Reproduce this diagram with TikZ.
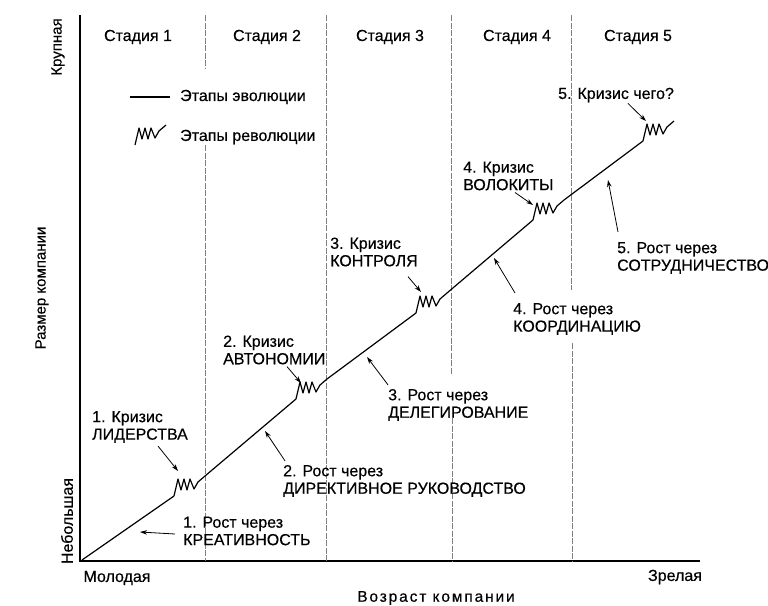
\documentclass[tikz,border=0pt]{standalone}
\usepackage{fontspec}
\setmainfont{Liberation Sans}
\newfontfamily\lblfont[FakeBold=0.35]{Liberation Sans}
\newfontfamily\widefont[FakeBold=0.35,LetterSpace=12]{Liberation Sans}
\usetikzlibrary{arrows.meta}
\begin{document}
\begin{tikzpicture}[x=1pt,y=-1pt,
  axis/.style={line width=1.4pt},
  stageline/.style={black!50, line width=0.6pt, dash pattern=on 6pt off 1.5pt},
  evo/.style={line width=1.2pt, line join=round},
  txt/.style={font=\lblfont\fontsize{16}{17.5}\selectfont, inner sep=0pt},
  smalltxt/.style={font=\lblfont\fontsize{15}{17}\selectfont, inner sep=0pt},
  lbl/.style={txt, align=left, anchor=west},
  ptr/.style={line width=0.8pt, -{Stealth[length=7pt,width=4.5pt]}},
  zz/.pic={\draw[evo] (0,0) -- (4,-17) -- (7,-6) -- (10,-17) -- (13,-6) -- (16,-17) -- (20,-7) -- (24,-14) -- (31,-20) coordinate (-end);}
]
\useasboundingbox[fill=white] (0,0) rectangle (768,605);

% axes
\coordinate (ytop) at (80,15);
\coordinate (orig) at (80,561);
\coordinate (xend) at (700,561);
\draw[axis] (ytop) -- (orig) -- (xend);

% stage separators
\draw[stageline] (205,15) -- (205,68) (205,145) -- (205,561);
\draw[stageline] (326,15) -- (326,561);
\draw[stageline] (451,15) -- (451,375) (452,418) -- (452,561);
\draw[stageline] (571,15) -- (571,290) (572,343) -- (572,561);

% stage titles
\node[txt] (s1) at (138,37) {Стадия 1};
\node[txt] (s2) at (267,37) {Стадия 2};
\node[txt] (s3) at (390,37) {Стадия 3};
\node[txt] (s4) at (517,37) {Стадия 4};
\node[txt] (s5) at (638,37) {Стадия 5};

% axis labels
\node[smalltxt, rotate=90] (ybig) at (58,47) {Крупная};
\node[smalltxt, rotate=90] (ytitle) at (42,288) {Размер компании};
\node[txt, rotate=90] (ysmall) at (67,521) {Небольшая};
\node[txt] (xyoung) at (117,578) {Молодая};
\node[txt] (xmature) at (675,577) {Зрелая};
\node[txt, font=\widefont\fontsize{15.5}{17}\selectfont] (xtitle) at (436,598) {Возраст компании};

% legend
\coordinate (lg1) at (130,97);
\coordinate (lg2) at (170,97);
\draw[evo] (lg1) -- (lg2);
\node[lbl] (lev) at (180,97) {Этапы эволюции};
\pic (lz) at (135,145) {zz};
\node[lbl] (lrev) at (180,137) {Этапы революции};

% growth curve
\coordinate (o) at (82,560);
\coordinate (a1) at (174,496);
\coordinate (a2) at (296,399);
\coordinate (a3) at (416,313);
\coordinate (a4) at (533,220);
\coordinate (a5) at (643,141);
\pic (z1) at (a1) {zz};
\pic (z2) at (a2) {zz};
\pic (z3) at (a3) {zz};
\pic (z4) at (a4) {zz};
\pic (z5) at (a5) {zz};
\draw[evo] (o) -- (a1);
\draw[evo] (z1-end) -- (a2);
\draw[evo] (z2-end) -- (a3);
\draw[evo] (z3-end) -- (a4);
\draw[evo] (z4-end) -- (a5);

% crisis labels
\node[lbl] (k1) at (92,427) {1. Кризис\\ЛИДЕРСТВА};
\node[lbl] (k2) at (223,350) {2. Кризис\\АВТОНОМИИ};
\node[lbl] (k3) at (330,252) {3. Кризис\\КОНТРОЛЯ};
\node[lbl] (k4) at (463,176) {4. Кризис\\ВОЛОКИТЫ};
\node[lbl] (k5) at (558,95) {5. Кризис чего?};

% growth labels
\node[lbl] (r1) at (183,531) {1. Рост через\\КРЕАТИВНОСТЬ};
\node[lbl] (r2) at (283,481) {2. Рост через\\ДИРЕКТИВНОЕ РУКОВОДСТВО};
\node[lbl] (r3) at (388,405) {3. Рост через\\ДЕЛЕГИРОВАНИЕ};
\node[lbl] (r4) at (513,319) {4. Рост через\\КООРДИНАЦИЮ};
\node[lbl] (r5) at (617,258) {5. Рост через\\СОТРУДНИЧЕСТВО};

% arrow tips
\coordinate (tk1) at (178,471);
\coordinate (tk2) at (301,383);
\coordinate (tk3) at (421,292);
\coordinate (tk4) at (533,205);
\coordinate (tk5) at (646,121);
\coordinate (tr1) at (140,532);
\coordinate (tr2) at (265,431);
\coordinate (tr3) at (367,357);
\coordinate (tr4) at (494,258);
\coordinate (tr5) at (608,180);

\draw[ptr] ([shift={(66,3)}]k1.south west) -- (tk1);
\draw[ptr] ([shift={(64,2)}]k2.south west) -- (tk2);
\draw[ptr] ([shift={(78,10)}]k3.south west) -- (tk3);
\draw[ptr] ([shift={(52,2)}]k4.south west) -- (tk4);
\draw[ptr] ([shift={(70,1)}]k5.south west) -- (tk5);
\draw[ptr] ([shift={(-8,3)}]r1.west) -- (tr1);
\draw[ptr] ([shift={(2,-4)}]r2.north west) -- (tr2);
\draw[ptr] ([shift={(0,-4)}]r3.north west) -- (tr3);
\draw[ptr] ([shift={(2,-10)}]r4.north west) -- (tr4);
\draw[ptr] ([shift={(1,-10)}]r5.north west) -- (tr5);
\end{tikzpicture}
\end{document}
